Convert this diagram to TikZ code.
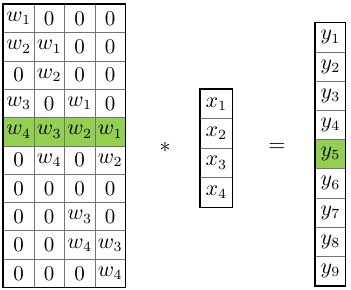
\documentclass[tikz,border=0pt]{standalone}
\usepackage{amsmath,amssymb}
\definecolor{cellgreen}{HTML}{92D050}

\begin{document}
\begin{tikzpicture}[x=0.5pt, y=-0.5pt, every node/.style={font=\fontsize{10.5}{12}\selectfont},
	wcell/.style={draw=black!55, minimum width=15.25pt, minimum height=14.15pt, inner sep=0pt, anchor=north west},
	xcell/.style={draw=black!55, minimum width=16pt, minimum height=14.7pt, inner sep=0pt, anchor=north west},
	ycell/.style={draw=black!55, minimum width=15pt, minimum height=14.6pt, inner sep=0pt, anchor=north west}]
	\useasboundingbox (0,0) rectangle (351,289);
	% weight matrix
	\fill[cellgreen] (3,117.2) rectangle (125,145.5);
	\foreach \row [count=\r from 0] in {{$w_1$,0,0,0},{$w_2$,$w_1$,0,0},{0,$w_2$,0,0},{$w_3$,0,$w_1$,0},{$w_4$,$w_3$,$w_2$,$w_1$},{0,$w_4$,0,$w_2$},{0,0,0,0},{0,0,$w_3$,0},{0,0,$w_4$,$w_3$},{0,0,0,$w_4$}}
		\foreach \e [count=\c from 0] in \row
			\node[wcell] (w-\r-\c) at ({3+30.5*\c},{4+28.3*\r}) {\e};
	\draw[line width=0.6pt] (w-0-0.north west) rectangle (w-9-3.south east);
	% input vector
	\foreach \i in {1,...,4}
		\node[xcell] (x-\i) at (200,{89+29.4*(\i-1)}) {$x_\i$};
	\draw[line width=0.6pt] (x-1.north west) rectangle (x-4.south east);
	% output vector
	\fill[cellgreen] (315,139.1) rectangle (345,168.3);
	\foreach \i in {1,...,9}
		\node[ycell] (y-\i) at (315,{22.3+29.2*(\i-1)}) {$y_\i$};
	\draw[line width=0.6pt] (y-1.north west) rectangle (y-9.south east);
	\node (times) at (165,147) {$\ast$};
	\node (equals) at (277,147) {$=$};
\end{tikzpicture}
\end{document}
